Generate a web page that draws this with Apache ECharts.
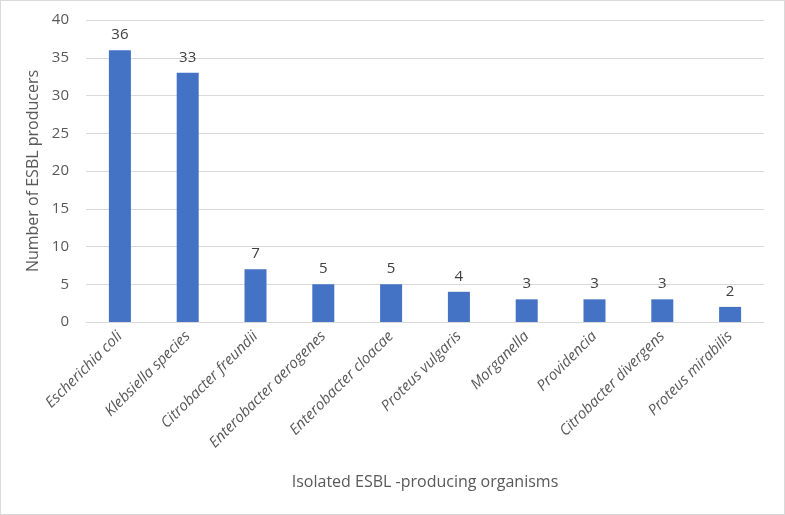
<!DOCTYPE html>
<html>
<head>
    <meta charset="utf-8">
    <title>ESBL producers</title>
    <script src="https://cdn.jsdelivr.net/npm/echarts@6/dist/echarts.min.js"></script>
    <style>
        html, body { margin: 0; padding: 0; background: #fff; }
        #main { width: 783px; height: 513px; border: 1px solid #d9d9d9; }
    </style>
</head>
<body>
<div id="main"></div>
<script type="text/javascript">
    var organisms = ['Escherichia coli', 'Klebsiella species', 'Citrobacter freundii',
        'Enterobacter aerogenes', 'Enterobacter cloacae', 'Proteus vulgaris',
        'Morganella', 'Providencia', 'Citrobacter divergens', 'Proteus mirabilis'];
    var producers = [36, 33, 7, 5, 5, 4, 3, 3, 3, 2];

    var chart = echarts.init(document.getElementById('main'));
    var font = '"Open Sans", sans-serif';
    var option = {
        textStyle: { fontFamily: font },
        grid: { left: 85, right: 20, top: 19, bottom: 192, containLabel: false },
        xAxis: {
            type: 'category',
            data: organisms,
            name: 'Isolated ESBL -producing organisms',
            nameLocation: 'middle',
            nameGap: 152,
            nameTextStyle: { fontSize: 16, color: '#595959', fontFamily: font },
            axisLine: { lineStyle: { color: '#d9d9d9' } },
            axisTick: { show: false },
            axisLabel: {
                interval: 0,
                rotate: 45,
                margin: 12,
                fontSize: 15,
                fontStyle: 'italic',
                color: '#595959',
                fontFamily: font
            }
        },
        yAxis: {
            type: 'value',
            min: 0,
            max: 40,
            interval: 5,
            name: 'Number of ESBL producers',
            nameLocation: 'middle',
            nameGap: 35,
            nameTextStyle: { fontSize: 16, color: '#595959', fontFamily: font },
            axisLine: { show: false },
            axisTick: { show: false },
            axisLabel: { fontSize: 15, color: '#595959', margin: 17, fontFamily: font },
            splitLine: { lineStyle: { color: '#d9d9d9' } }
        },
        series: [{
            type: 'bar',
            data: producers,
            barWidth: 22,
            itemStyle: { color: '#4472c4' },
            label: {
                show: true,
                position: 'top',
                distance: 8,
                fontSize: 15,
                color: '#404040',
                fontFamily: font
            }
        }]
    };
    chart.setOption(option);
</script>
</body>
</html>
